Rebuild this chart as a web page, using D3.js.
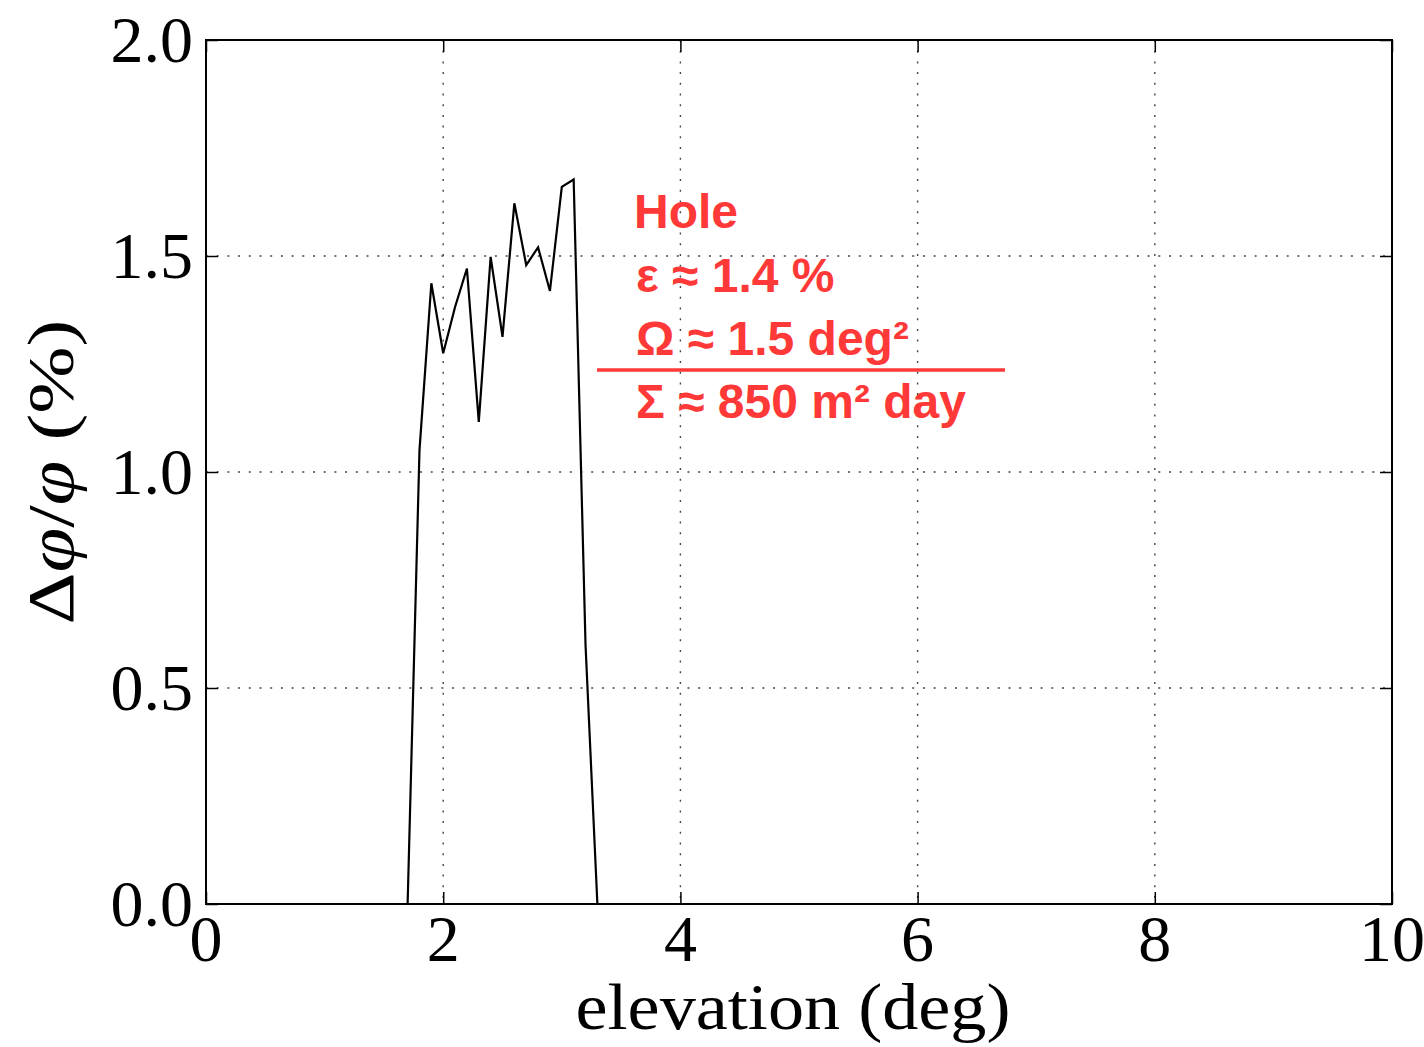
<!DOCTYPE html>
<html>
<head>
    <meta charset="UTF-8">
    <title>Hole elevation</title>
    <script src="https://d3js.org/d3.v7.min.js"></script>
    <style type="text/css">
        body { margin: 0; background: #fff; }
        .grid line { stroke: #444; stroke-width: 1.4; stroke-dasharray: 2,8.7; }
        .tick-label { font-family: "Liberation Serif", "DejaVu Serif", serif; font-size: 66px; fill: #000; }
        .note { font-family: "Liberation Sans", Arial, sans-serif; font-weight: bold; font-size: 48px; fill: #ff3838; }
    </style>
</head>
<body>
<script type="text/javascript">
    // data
    var elevation = [0, 1.7, 1.8, 1.9, 2.0, 2.1, 2.2, 2.3, 2.4, 2.5, 2.6, 2.7, 2.8, 2.9, 3.0, 3.1, 3.2, 3.3, 10];
    var dPhi = [0, 0, 1.05, 1.437, 1.275, 1.382, 1.471, 1.116, 1.498, 1.313, 1.622, 1.479, 1.52, 1.419, 1.66, 1.677, 0.6, 0, 0];
    var xTicks = [0, 2, 4, 6, 8, 10];
    var yTicks = [0, 0.5, 1.0, 1.5, 2.0];
    var noteLines = ["Hole", "ε ≈ 1.4 %", "Ω ≈ 1.5 deg²", "Σ ≈ 850 m² day"];

    var W = 1424, H = 1047;
    var margin = { top: 40, right: 32, bottom: 143, left: 206 };
    var width = W - margin.left - margin.right,
        height = H - margin.top - margin.bottom;

    var x = d3.scaleLinear().domain([0, 10]).range([0, width]);
    var y = d3.scaleLinear().domain([0, 2]).range([height, 0]);

    var svg = d3.select("body").append("svg")
        .attr("width", W)
        .attr("height", H);
    var g = svg.append("g")
        .attr("transform", "translate(" + margin.left + "," + margin.top + ")");

    // grid
    var grid = g.append("g").attr("class", "grid");
    grid.selectAll(".gx").data(xTicks.slice(1, -1)).enter().append("line")
        .attr("x1", function (d) { return x(d); }).attr("x2", function (d) { return x(d); })
        .attr("y1", 0).attr("y2", height);
    grid.selectAll(".gy").data(yTicks.slice(1, -1)).enter().append("line")
        .attr("y1", function (d) { return y(d); }).attr("y2", function (d) { return y(d); })
        .attr("x1", 0).attr("x2", width);

    // inward ticks on all sides
    var tickLen = 12;
    function styleTicks(s) {
        s.select(".domain").remove();
        s.selectAll("line").attr("stroke", "#000").attr("stroke-width", 1.5);
    }
    g.append("g").call(d3.axisBottom(x).tickValues(xTicks).tickSize(tickLen).tickFormat(""))
        .attr("transform", "translate(0," + (height - tickLen) + ")").call(styleTicks);
    g.append("g").call(d3.axisTop(x).tickValues(xTicks).tickSize(tickLen).tickFormat(""))
        .attr("transform", "translate(0," + tickLen + ")").call(styleTicks);
    g.append("g").call(d3.axisLeft(y).tickValues(yTicks).tickSize(tickLen).tickFormat(""))
        .attr("transform", "translate(" + tickLen + ",0)").call(styleTicks);
    g.append("g").call(d3.axisRight(y).tickValues(yTicks).tickSize(tickLen).tickFormat(""))
        .attr("transform", "translate(" + (width - tickLen) + ",0)").call(styleTicks);

    // tick labels
    g.selectAll(".xl").data(xTicks).enter().append("text")
        .attr("class", "tick-label")
        .attr("x", function (d) { return x(d); })
        .attr("y", height + 57)
        .attr("text-anchor", "middle")
        .text(function (d) { return d; });
    g.selectAll(".yl").data(yTicks).enter().append("text")
        .attr("class", "tick-label")
        .attr("x", -13)
        .attr("y", function (d) { return y(d) + 22; })
        .attr("text-anchor", "end")
        .text(function (d) { return d.toFixed(1); });

    // axis labels
    g.append("text")
        .attr("class", "tick-label")
        .attr("x", 587)
        .attr("y", height + 125)
        .attr("text-anchor", "middle")
        .attr("textLength", 435)
        .attr("lengthAdjust", "spacingAndGlyphs")
        .text("elevation (deg)");
    var yl = g.append("text")
        .attr("class", "tick-label")
        .attr("transform", "translate(-133," + (472 - margin.top) + ") rotate(-90)")
        .attr("text-anchor", "middle")
        .attr("textLength", 305)
        .attr("lengthAdjust", "spacingAndGlyphs");
    yl.append("tspan").text("Δ");
    yl.append("tspan").attr("font-style", "italic").text("φ");
    yl.append("tspan").text("/");
    yl.append("tspan").attr("font-style", "italic").text("φ");
    yl.append("tspan").text(" (%)");

    // data line
    var line = d3.line()
        .x(function (d, i) { return x(elevation[i]); })
        .y(function (d) { return y(d); });
    g.append("path")
        .attr("d", line(dPhi))
        .attr("fill", "none")
        .attr("stroke", "#000")
        .attr("stroke-width", 2.2);

    // frame
    g.append("rect")
        .attr("width", width).attr("height", height)
        .attr("fill", "none").attr("stroke", "#000").attr("stroke-width", 2);

    // annotation
    var note = svg.append("g");
    note.selectAll("text").data(noteLines).enter().append("text")
        .attr("class", "note")
        .attr("x", function (d, i) { return i === 0 ? 634 : 636; })
        .attr("y", function (d, i) { return [228, 292, 355, 418][i]; })
        .text(function (d) { return d; });
    note.append("line")
        .attr("x1", 597).attr("x2", 1005)
        .attr("y1", 370).attr("y2", 370)
        .attr("stroke", "#ff3838").attr("stroke-width", 3.5);
</script>
</body>
</html>
